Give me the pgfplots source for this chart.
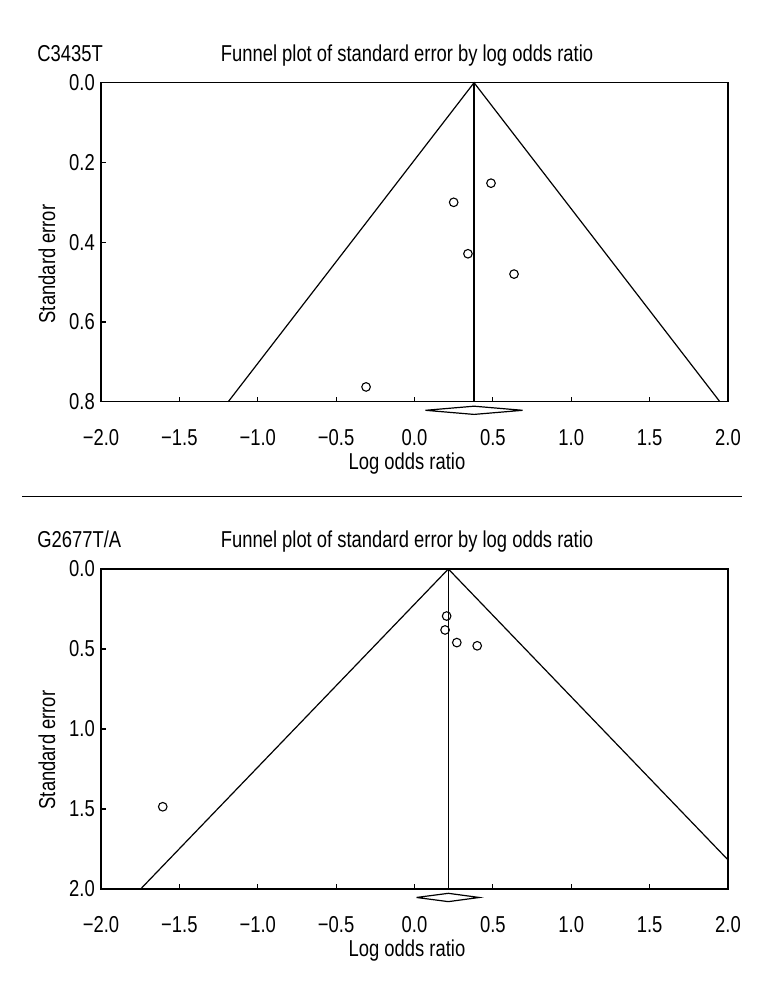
\documentclass[border=0pt]{standalone}
\usepackage{fontspec}
\setmainfont{Liberation Sans}[FakeStretch=0.8]
\usepackage{pgfplots}
\pgfplotsset{compat=1.18}
\newcommand{\fs}{\fontsize{11.5}{13.5}\selectfont}
\pgfplotsset{fp/.style={
  scale only axis, width=313.5pt,
  xmin=-2, xmax=2, y dir=reverse,
  xtick={-2,-1.5,-1,-0.5,0,0.5,1,1.5,2},
  xticklabels={−2.0,−1.5,−1.0,−0.5,0.0,0.5,1.0,1.5,2.0},
  tick align=inside, xtick pos=bottom, ytick pos=left,
  major tick length=2.5pt,
  axis line style={line width=0.6pt},
  every axis/.append style={line width=0.6pt},
  tick style={line width=0.6pt, black},
  clip=false,
  every tick label/.append style={font=\fs},
  xticklabel style={yshift=-9.8pt},
  yticklabel style={xshift=1pt},
}}
\begin{document}
\fs
\begin{tikzpicture}
\path[use as bounding box] (0,0) rectangle (384pt,492pt);
% ---------- top panel ----------
\node[anchor=base west, inner sep=0pt] at (18.5pt,461.15pt) {C3435T};
\node[anchor=base] at (203.5pt,461.15pt) {Funnel plot of standard error by log odds ratio};
\node[anchor=base] at (203.5pt,257pt) {Log odds ratio};
\node[rotate=90] at (23.5pt,360pt) {Standard error};
\begin{axis}[fp, at={(50.5pt,450.65pt)}, anchor=north west, height=159.5pt,
  ymin=0, ymax=0.8, ytick={0,0.2,0.4,0.6,0.8},
  yticklabels={0.0,0.2,0.4,0.6,0.8}]
\addplot[black, line width=0.6pt] coordinates {(-1.188,0.8) (0.38,0) (1.948,0.8)};
\addplot[black, line width=0.8pt] coordinates {(0.38,0) (0.38,0.8)};
\addplot[black, line width=0.6pt, fill=white] coordinates {(0.07,0.8216) (0.38,0.8113) (0.69,0.8216) (0.38,0.8319) (0.07,0.8216)};
\addplot[only marks, mark=o, mark size=2.15pt, black, mark options={line width=0.55pt}] coordinates {
(0.488,0.252) (0.250,0.300) (0.341,0.429) (0.635,0.480) (-0.309,0.763)};
\end{axis}
% separator
\draw[line width=0.6pt] (11pt,243.65pt) -- (371pt,243.65pt);
% ---------- bottom panel ----------
\node[anchor=base west, inner sep=0pt] at (18.5pt,218pt) {G2677T/A};
\node[anchor=base] at (203.5pt,218pt) {Funnel plot of standard error by log odds ratio};
\node[anchor=base] at (203.5pt,13.5pt) {Log odds ratio};
\node[rotate=90] at (23.5pt,117pt) {Standard error};
\begin{axis}[fp, at={(50.5pt,207.5pt)}, anchor=north west, height=160pt,
  ymin=0, ymax=2, ytick={0,0.5,1,1.5,2},
  yticklabels={0.0,0.5,1.0,1.5,2.0}]
\addplot[black, line width=0.6pt] coordinates {(-1.747,2) (0.216,0) (2,1.818)};
\addplot[black, line width=0.6pt] coordinates {(0.216,0) (0.216,2)};
\addplot[black, line width=0.6pt, fill=white] coordinates {(0.013,2.053) (0.216,2.027) (0.413,2.053) (0.216,2.079) (0.013,2.053)};
\addplot[only marks, mark=o, mark size=2.15pt, black, mark options={line width=0.55pt}] coordinates {
(0.205,0.294) (0.195,0.381) (0.27,0.46) (0.40,0.48) (-1.606,1.486)};
\end{axis}
\end{tikzpicture}
\end{document}
